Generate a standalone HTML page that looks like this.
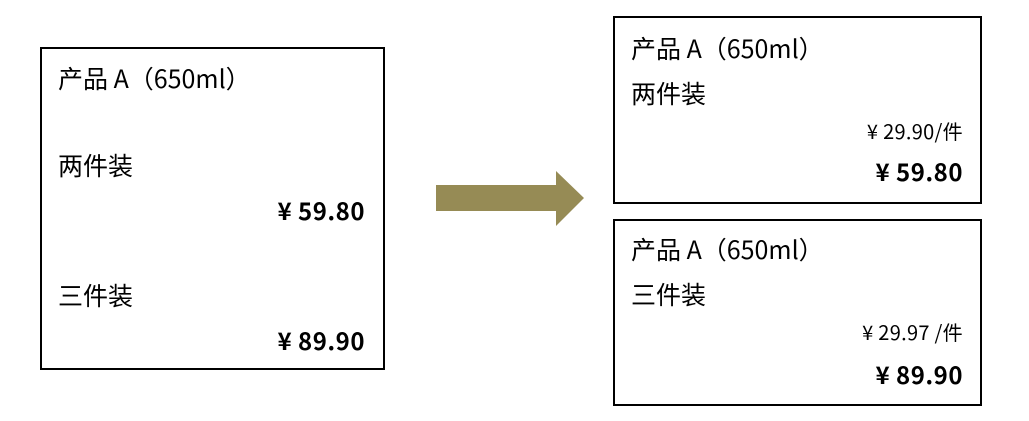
<!DOCTYPE html>
<html><head><meta charset="utf-8"><style>
body{margin:0;width:1029px;height:421px;background:#fff;position:relative;overflow:hidden;font-family:"Noto Sans CJK SC","Liberation Sans",sans-serif;color:#000}
.box{position:absolute;border:2px solid #000;box-sizing:border-box}
.t{position:absolute;white-space:nowrap;font-size:25px;line-height:25px}
.r{text-align:right}
.b{font-weight:bold;letter-spacing:0.5px;font-size:24px;line-height:24px}
.s{font-size:20px;line-height:20px;letter-spacing:0.3px}
</style></head><body>
<div class="box" style="left:40px;top:47px;width:345px;height:323px"></div>
<div class="box" style="left:613px;top:16px;width:369px;height:188px"></div>
<div class="box" style="left:613px;top:219px;width:369px;height:187px"></div>

<div class="t" style="left:58px;top:66px">产品 A（650ml）</div>
<div class="t" style="left:58px;top:153px">两件装</div>
<div class="t b r" style="right:664px;top:198px">¥ 59.80</div>
<div class="t" style="left:58px;top:283px">三件装</div>
<div class="t b r" style="right:664px;top:328px">¥ 89.90</div>

<div class="t" style="left:631px;top:36px">产品 A（650ml）</div>
<div class="t" style="left:631px;top:81px">两件装</div>
<div class="t s r" style="right:66px;top:121px">¥ 29.90/件</div>
<div class="t b r" style="right:66px;top:159px">¥ 59.80</div>

<div class="t" style="left:631px;top:237px">产品 A（650ml）</div>
<div class="t" style="left:631px;top:282px">三件装</div>
<div class="t s r" style="right:66px;top:322px">¥ 29.97 /件</div>
<div class="t b r" style="right:66px;top:362px">¥ 89.90</div>

<svg style="position:absolute;left:0;top:0" width="1029" height="421">
<polygon points="436,185 556,185 556,171 584,198 556,226 556,211 436,211" fill="#968b55"/>
</svg>
</body></html>
